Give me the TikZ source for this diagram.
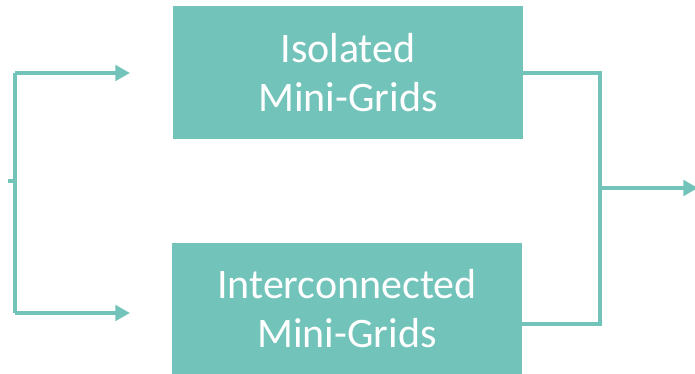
\documentclass[tikz,border=0pt]{standalone}
\usepackage{fontspec}
\setmainfont{Carlito}
\usetikzlibrary{positioning, arrows.meta}
\definecolor{teal}{RGB}{114,195,186}
\tikzset{
grid/.style={shape=rectangle, minimum width=262.5pt, inner sep=0, fill=teal, text=white, align=center, font=\fontsize{31.5}{37}\selectfont}, link/.style={draw=teal, line width=3pt}, arrow/.style={link, -{Triangle[length=11pt, width=11.5pt]}}}

\begin{document}
\begin{tikzpicture}[x=0.75pt, y=0.75pt]
\useasboundingbox (0,0) rectangle (695,374);
\node [grid, minimum height=99.75pt] at (348, 301.5) (iso) {Isolated\\Mini-Grids};
\node [grid, minimum height=98.25pt] at (347, 65.5) (inter) {Interconnected\\Mini-Grids};
\coordinate (in) at (8, 193);
\coordinate (split) at (15, 193);
\coordinate (in-top) at (130, 301);
\coordinate (in-bot) at (130, 61);
\coordinate (join) at (600, 186);
\coordinate (join-bot) at (600, 50);
\coordinate (out) at (698, 186);
\draw [link] (in) -- (split);
\draw [arrow] (split |- in-top) -- (in-top);
\draw [arrow] (split |- in-bot) -- (in-bot);
\draw [link] (split |- in-top) -- (split |- in-bot);
\draw [link] (iso.east |- in-top) -| (join-bot) -- (inter.east |- join-bot);
\draw [arrow] (join) -- (out);
\end{tikzpicture}
\end{document}
